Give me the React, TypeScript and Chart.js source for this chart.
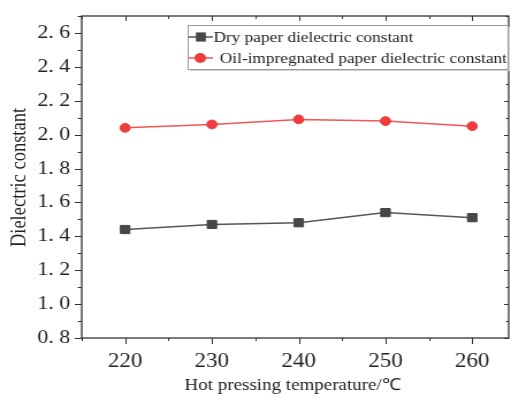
import React, { useEffect, useRef } from "react";
import { Chart, registerables } from "chart.js";

Chart.register(...registerables);

const temperatures = [220, 230, 240, 250, 260];
const dryPaper = [1.44, 1.47, 1.48, 1.54, 1.51];
const oilPaper = [2.04, 2.06, 2.09, 2.08, 2.05];
const xTickValues = [220, 230, 240, 250, 260];
const xMinorValues = [215, 225, 235, 245, 255, 265];
const yTickValues = [0.8, 1.0, 1.2, 1.4, 1.6, 1.8, 2.0, 2.2, 2.4, 2.6];
const yMinorValues = [0.9, 1.1, 1.3, 1.5, 1.7, 1.9, 2.1, 2.3, 2.5, 2.7];
const seriesNames = ["Dry paper dielectric constant", "Oil-impregnated paper dielectric constant"];
const xTitle = "Hot pressing temperature/\u2103";
const yTitle = "Dielectric constant";

// the reference is horizontally stretched; render narrower and stretch with CSS
const W = 511;
const H = 399;
const STRETCH = 1.15;
const IW = Math.round(W / STRETCH);

const FONT = "'Liberation Serif', 'Times New Roman', serif";
const TEXT = "#222";
const DRY_COLOR = "#474747";
const DRY_LINE = "#555555";
const OIL_COLOR = "#f03c3c";
const OIL_LINE = "#f45555";

const framePlugin = {
  id: "frame",
  afterDraw(chart: any) {
    const { ctx, chartArea } = chart;
    const xs = chart.scales.x;
    const ys = chart.scales.y;
    const { left, right, top, bottom } = chartArea;
    ctx.save();
    ctx.strokeStyle = "#333";
    ctx.lineWidth = 1.3;
    ctx.strokeRect(left, top, right - left, bottom - top);
    ctx.lineWidth = 1;
    ctx.beginPath();
    for (const v of xTickValues) {
      const px = Math.round(xs.getPixelForValue(v)) + 0.5;
      ctx.moveTo(px, bottom); ctx.lineTo(px, bottom + 6);
      ctx.moveTo(px, top); ctx.lineTo(px, top + 5);
    }
    for (const v of xMinorValues) {
      const px = Math.round(xs.getPixelForValue(v)) + 0.5;
      if (px < left || px > right) continue;
      ctx.moveTo(px, bottom); ctx.lineTo(px, bottom + 3);
      ctx.moveTo(px, top); ctx.lineTo(px, top + 3);
    }
    for (const v of yTickValues) {
      const py = Math.round(ys.getPixelForValue(v)) + 0.5;
      ctx.moveTo(left, py); ctx.lineTo(left - 6, py);
      ctx.moveTo(right, py); ctx.lineTo(right - 4, py);
    }
    for (const v of yMinorValues) {
      const py = Math.round(ys.getPixelForValue(v)) + 0.5;
      if (py < top || py > bottom) continue;
      ctx.moveTo(left, py); ctx.lineTo(left - 3.5, py);
      ctx.moveTo(right, py); ctx.lineTo(right - 2.5, py);
    }
    ctx.stroke();

    // axis titles
    ctx.fillStyle = TEXT;
    ctx.font = `16.5px ${FONT}`;
    ctx.textAlign = "center";
    ctx.textBaseline = "middle";
    ctx.fillText(xTitle, 254, 386);
    ctx.save();
    ctx.translate(17.5, 177.5);
    ctx.rotate(-Math.PI / 2);
    ctx.font = `18.5px ${FONT}`;
    ctx.fillText(yTitle, 0, 0);
    ctx.restore();

    // legend
    const lx = 163, ly = 25, lw = 278, lh = 44;
    ctx.fillStyle = "#fff";
    ctx.fillRect(lx, ly, lw, lh);
    ctx.strokeStyle = "#9a9a9a";
    ctx.lineWidth = 1;
    ctx.strokeRect(lx + 0.5, ly + 0.5, lw, lh);
    ctx.strokeStyle = "#d0d0d0";
    ctx.beginPath();
    ctx.moveTo(lx + lw + 1.5, ly + 2); ctx.lineTo(lx + lw + 1.5, ly + lh + 1.5); ctx.lineTo(lx + 2, ly + lh + 1.5);
    ctx.stroke();

    const rows = [
      { y: 37, name: seriesNames[0], line: DRY_LINE, color: DRY_COLOR, square: true, tx: 185.5 },
      { y: 58, name: seriesNames[1], line: OIL_LINE, color: OIL_COLOR, square: false, tx: 191 },
    ];
    ctx.font = `15px ${FONT}`;
    ctx.textAlign = "left";
    ctx.textBaseline = "middle";
    for (const r of rows) {
      ctx.strokeStyle = r.line;
      ctx.lineWidth = 1.5;
      ctx.beginPath();
      ctx.moveTo(164, r.y); ctx.lineTo(185, r.y);
      ctx.stroke();
      ctx.fillStyle = r.color;
      if (r.square) {
        ctx.fillRect(174.5 - 4.3, r.y - 4.6, 8.6, 9.2);
      } else {
        ctx.beginPath();
        ctx.arc(174, r.y, 5, 0, Math.PI * 2);
        ctx.fill();
      }
      ctx.fillStyle = TEXT;
      ctx.fillText(r.name, r.tx, r.y + 1);
    }
    ctx.restore();
  },
};

export default function App() {
  const ref = useRef<HTMLCanvasElement>(null);
  useEffect(() => {
    if (!ref.current) return;
    const chart = new Chart(ref.current, {
      type: "line",
      data: {
        datasets: [
          {
            label: seriesNames[0],
            data: temperatures.map((t, i) => ({ x: t, y: dryPaper[i] })),
            borderColor: DRY_LINE,
            backgroundColor: DRY_COLOR,
            pointBackgroundColor: DRY_COLOR,
            pointBorderColor: DRY_COLOR,
            pointStyle: "rect",
            pointRadius: 5.8,
            pointBorderWidth: 1,
            borderWidth: 1.5,
            tension: 0,
          },
          {
            label: seriesNames[1],
            data: temperatures.map((t, i) => ({ x: t, y: oilPaper[i] })),
            borderColor: OIL_LINE,
            backgroundColor: OIL_COLOR,
            pointBackgroundColor: OIL_COLOR,
            pointBorderColor: OIL_COLOR,
            pointStyle: "circle",
            pointRadius: 4.4,
            pointBorderWidth: 1,
            borderWidth: 1.5,
            tension: 0,
          },
        ],
      },
      options: {
        animation: false,
        responsive: false,
        maintainAspectRatio: false,
        devicePixelRatio: 1,
        layout: { autoPadding: false, padding: { top: 16, right: 2, left: 0, bottom: 0 } },
        plugins: { legend: { display: false }, tooltip: { enabled: false } },
        scales: {
          x: {
            type: "linear",
            min: 215,
            max: 264.2,
            grid: { display: false, drawTicks: false },
            border: { display: false },
            ticks: {
              padding: 12,
              color: TEXT,
              font: { family: FONT, size: 20 },
              maxRotation: 0,
              callback: (v: any) => String(v),
            },
            afterBuildTicks: (s: any) => {
              s.ticks = xTickValues.map((v) => ({ value: v }));
            },
            afterFit: (s: any) => {
              s.height = 61;
              s.paddingLeft = 0;
              s.paddingRight = 0;
            },
          },
          y: {
            type: "linear",
            min: 0.8,
            max: 2.7,
            grid: { display: false, drawTicks: false },
            border: { display: false },
            ticks: {
              padding: 10,
              color: TEXT,
              font: { family: FONT, size: 19 },
              callback: (v: any) => Number(v).toFixed(1).replace(".", ". "),
            },
            afterBuildTicks: (s: any) => {
              s.ticks = yTickValues.map((v) => ({ value: v }));
            },
            afterFit: (s: any) => {
              s.width = 71;
              s.paddingTop = 0;
              s.paddingBottom = 0;
            },
          },
        },
      },
      plugins: [framePlugin],
    });
    return () => chart.destroy();
  }, []);
  return (
    <div style={{ position: "fixed", left: 0, top: 0, width: W, height: H, background: "#fff", overflow: "hidden" }}>
      <canvas ref={ref} width={IW} height={H} style={{ width: W, height: H, display: "block" }} />
    </div>
  );
}
